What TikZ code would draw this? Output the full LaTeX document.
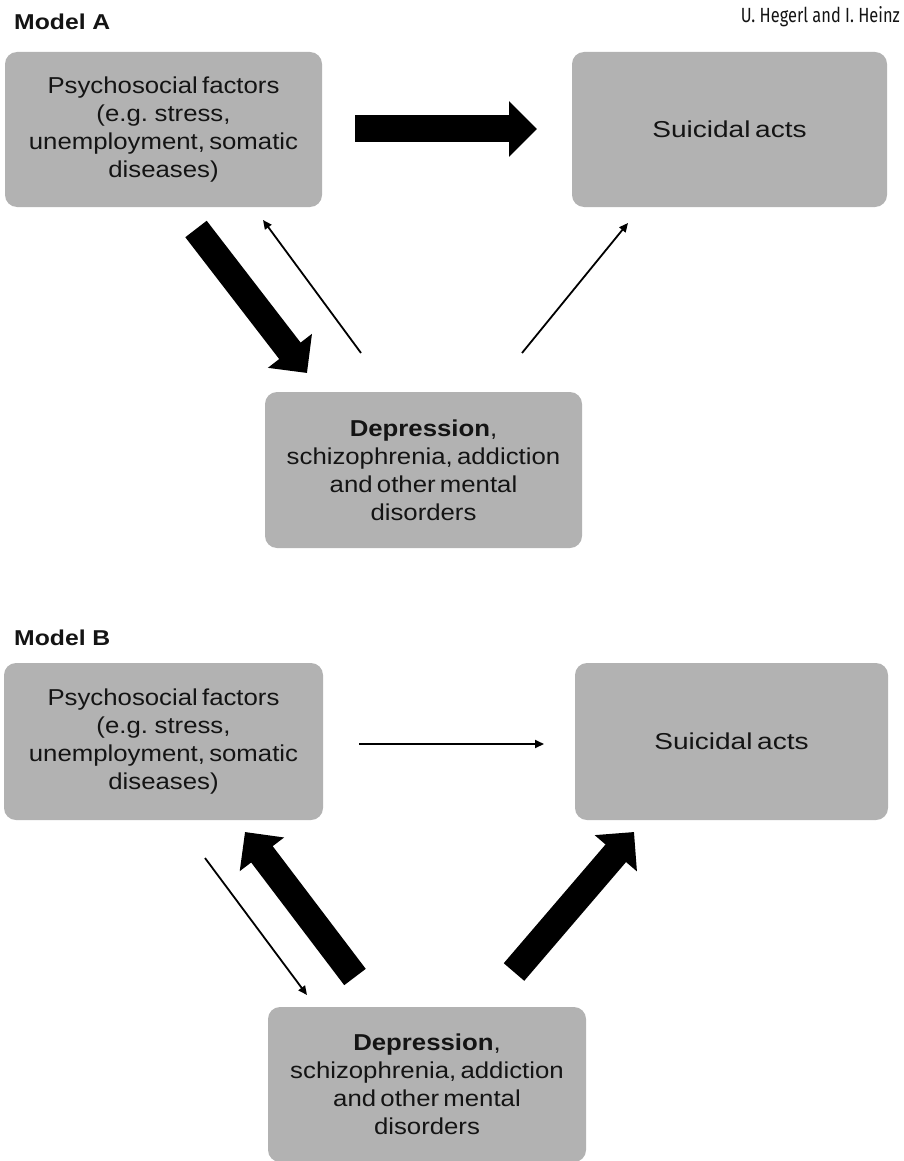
\documentclass[tikz,border=0pt]{standalone}
\usepackage{fontspec}
\setmainfont{Liberation Sans}
\newfontfamily\boxfont[FakeStretch=1.12,WordSpace=0.6]{Liberation Sans}
\newfontfamily\wideboxfont[FakeStretch=1.22,WordSpace=0.6]{Liberation Sans}
\newfontfamily\titlefont[FakeStretch=1.15]{Liberation Sans}
\newfontfamily\authfont[FakeStretch=0.8]{Fira Sans}
\usetikzlibrary{arrows.meta}
\definecolor{boxgray}{RGB}{178,178,178}
\definecolor{txt}{RGB}{20,20,20}
\begin{document}
\begin{tikzpicture}[x=1pt,y=-1pt,
  box/.style={fill=boxgray, draw=none, rounded corners=12pt, inner sep=0pt,
    align=center, text=txt, font=\boxfont\fontsize{23}{28}\selectfont},
  widebox/.style={box, font=\wideboxfont\fontsize{23}{28}\selectfont},
  big/.style={line width=27pt, -{Triangle[length=28pt,width=54pt]}},
  thin/.style={line width=1.8pt, -{Triangle[length=9pt,width=8pt]}},
  title/.style={anchor=base west, inner sep=0pt, text=txt, font=\titlefont\fontsize{21.5}{25}\selectfont\bfseries}]
\useasboundingbox (0,0) rectangle (903,1161);
% headers
\node[title] (ta) at (14,30) {Model A};
\node[title] (tb) at (14,645) {Model B};
\node[anchor=base east, inner sep=0pt, text=txt, font=\authfont\fontsize{20.5}{24}\selectfont] (auth) at (900,23) {U. Hegerl and I. Heinz};
% Model A boxes
\node[box, minimum width=317pt, minimum height=155pt] (a1) at (163.5,129.5) {Psychosocial factors\\(e.g. stress,\\unemployment, somatic\\diseases)};
\node[widebox, minimum width=315pt, minimum height=155pt] (a2) at (729.5,129.5) {Suicidal acts};
\node[box, minimum width=317pt, minimum height=156pt] (a3) at (423.5,470) {\textbf{Depression},\\schizophrenia, addiction\\and other mental\\disorders};
% Model B boxes
\node[box, minimum width=319pt, minimum height=157pt] (b1) at (163.5,741.5) {Psychosocial factors\\(e.g. stress,\\unemployment, somatic\\diseases)};
\node[widebox, minimum width=313pt, minimum height=157pt] (b2) at (731.5,741.5) {Suicidal acts};
\node[box, minimum width=318pt, minimum height=155pt] (b3) at (427,1084.5) {\textbf{Depression},\\schizophrenia, addiction\\and other mental\\disorders};
% Model A connector ends
\coordinate (a12s) at (355,129);  \coordinate (a12e) at (537,129);
\coordinate (a13s) at (196,229);  \coordinate (a13e) at (307,373);
\coordinate (a31s) at (361,353);  \coordinate (a31e) at (263,220);
\coordinate (a32s) at (522,353);  \coordinate (a32e) at (628,223);
% Model B connector ends
\coordinate (b12s) at (359,744);  \coordinate (b12e) at (544,744);
\coordinate (b31s) at (355,977);  \coordinate (b31e) at (245,832);
\coordinate (b13s) at (205,858);  \coordinate (b13e) at (307,995);
\coordinate (b32s) at (514,972);  \coordinate (b32e) at (634,832);
% Model A connectors
\draw[big] (a12s) -- (a12e);
\draw[big] (a13s) -- (a13e);
\draw[thin] (a31s) -- (a31e);
\draw[thin] (a32s) -- (a32e);
% Model B connectors
\draw[thin] (b12s) -- (b12e);
\draw[big] (b31s) -- (b31e);
\draw[thin] (b13s) -- (b13e);
\draw[big] (b32s) -- (b32e);
\end{tikzpicture}
\end{document}
